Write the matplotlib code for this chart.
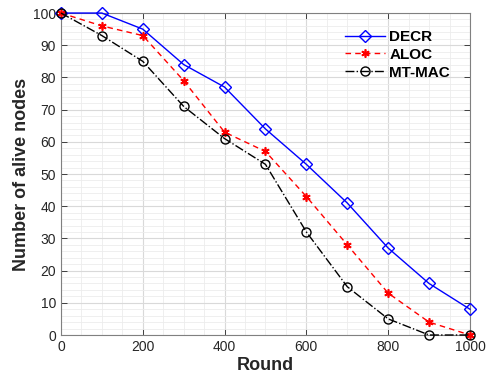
import matplotlib
matplotlib.use("Agg")
import matplotlib.pyplot as plt
from matplotlib.ticker import MultipleLocator

plt.rcParams['font.family'] = ['Liberation Sans', 'DejaVu Sans']

rounds = [0, 100, 200, 300, 400, 500, 600, 700, 800, 900, 1000]
decr = [100, 100, 95, 84, 77, 64, 53, 41, 27, 16, 8]
aloc = [100, 96, 93, 79, 63, 57, 43, 28, 13, 4, 0]
mtmac = [100, 93, 85, 71, 61, 53, 32, 15, 5, 0, 0]

fig = plt.figure(figsize=(4.86, 3.77), dpi=100)
ax = fig.add_axes([0.1255, 0.1114, 0.8415, 0.854])

ax.plot(rounds, decr, '-', color='#0000ff', lw=1.0, marker='D', ms=6,
        mfc='none', mec='#0000ff', mew=1.0, label='DECR', clip_on=False, zorder=3)
ax.plot(rounds, aloc, color='#ff0000', lw=1.0, dashes=(4, 3), marker=(6, 2, 0), ms=6,
        mec='#ff0000', mew=1.2, label='ALOC', clip_on=False, zorder=3)
ax.plot(rounds, mtmac, '-.', color='black', lw=1.0, marker='o', ms=6.5,
        mfc='none', mec='black', mew=1.0, label='MT-MAC', clip_on=False, zorder=3)

ax.set_xlim(0, 1000)
ax.set_ylim(0, 100)
ax.xaxis.set_major_locator(MultipleLocator(200))
ax.xaxis.set_minor_locator(MultipleLocator(50))
ax.yaxis.set_major_locator(MultipleLocator(10))
ax.yaxis.set_minor_locator(MultipleLocator(2))
ax.grid(which='major', color='#d9d9d9', lw=0.8)
ax.grid(which='minor', color='#ececec', lw=0.6)
ax.set_axisbelow(True)
ax.tick_params(which='major', direction='in', top=True, right=True, length=4,
               labelsize=10, colors='#262626', width=0.6)
ax.tick_params(which='minor', length=0, top=True, right=True)
for s in ax.spines.values():
    s.set_color('#808080')
    s.set_linewidth(0.8)

ax.set_xlabel('Round', fontsize=13, fontweight='bold', color='#262626', labelpad=2)
ax.set_ylabel('Number of alive nodes', fontsize=13, fontweight='bold', color='#262626', labelpad=2)

leg = ax.legend(loc='upper right', bbox_to_anchor=(0.985, 0.99), frameon=False,
                prop={'weight': 'bold', 'size': 11}, handlelength=2.6,
                labelspacing=0.25, handletextpad=0.3)

fig.savefig('out.png', dpi=100)
